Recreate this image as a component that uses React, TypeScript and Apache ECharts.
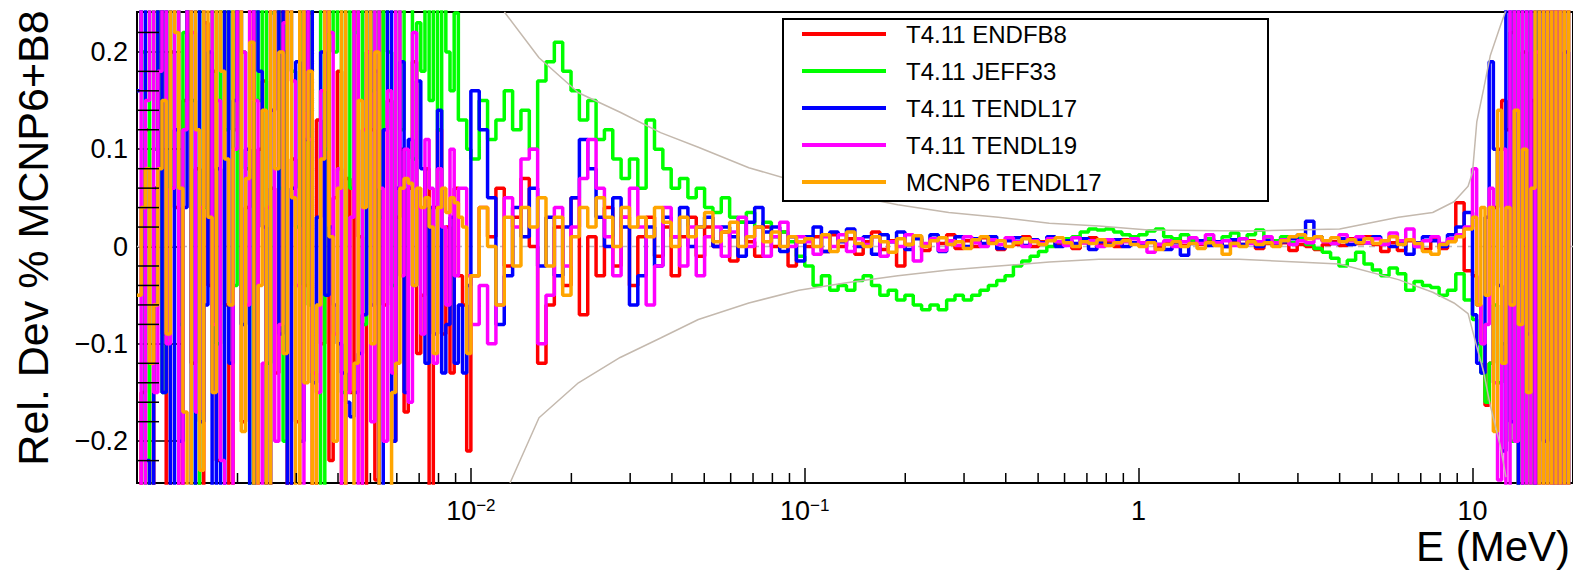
import React, { useEffect, useRef } from "react";
import * as echarts from "echarts";

const FONT = '"Liberation Sans", Arial, Helvetica, sans-serif';

// Energy axis (MeV). Histogram bins, log-uniform within each energy range:
// 80/decade below 10 keV, 40/decade from 10 keV to 10 MeV, 80/decade above 10 MeV
const E_MIN = 0.001;
const E_MAX = 20;
const binEdges: number[] = [];
for (let i = 0; i <= 80; i++) binEdges.push(0.001 * Math.pow(10, i / 80));
for (let i = 1; i <= 120; i++) binEdges.push(0.01 * Math.pow(10, i / 40));
for (let i = 1; i <= 24; i++) binEdges.push(10 * Math.pow(10, i / 80));

const Y_MIN = -0.243;
const Y_MAX = 0.241;

// Series values, in units of 1e-3 (one value per bin): low (<10 keV), mid, high (>10 MeV)
const endfb8Low = [
  -300, -150, 120, -280, 60, 300, -90, -250, 200, 40, -300, 150, 260, -120, 80, -300, 230, -40, 180, -220,
  300, -60, -280, 120, 250, -180, 40, 300, -300, 100, 170, -250, 60, -130, 280, 200, -300, 90, -180, 300,
  -40, 240, -290, 130, -100, 300, -220, 50, 180, -300, 70, -150, 260, 10, -300, 200, 120, -240, 300, -60,
  150, -200, 30, 100, -170, 60, 190, -110, -50, 80, -260, 40, 120, -90, 20, -130, 60, -30, -60, -210,
];
const endfb8Mid = [
  -30, 40, 10, 60, -20, 30, 70, 0, -120, -60, 20, -40, 50, -70, 10, -30, 40, -20, 30, -40, 10, 30, -10, 20, -30, 10, 30, -10, 20, 0, 15, -15, 25, 5, -10, 20, 0, 15, -20, 5,
  0, 10, -5, 12, 0, 8, -8, 5, 15, -3, 6, -20, 2, 10, -4, 8, 3, 12, -2, 6, 0, 9, 4, -3, 7, 2, 10, 0, 5, 8, 2, 6, -2, 4, 9, 3, 5, 0, 7, 4,
  3, 6, 0, 4, 8, 1, 5, 2, 7, 3, 0, 5, 2, 6, -2, 3, 1, 4, -4, 2, 0, -3, 2, 5, 1, 8, 3, 10, 2, -5, 4, -4, 6, 0, -3, 8, -2, 6, 45, -25,
];
const endfb8High = [-30, -60, -100, -163, -120, 40, 100, 150, 120, 220, 300, -300, 200, -260, 150, -300, 300, -280, 300, -300, 260, -300, 300, -250];

const jeff33Low = [
  300, 200, -300, 280, 100, 300, -150, 250, 60, 300, -80, 220, 300, 150, -260, 300, 40, 180, 300, -100,
  260, 120, 300, -40, 300, 200, 80, -300, 300, 150, 300, -120, 240, 300, 60, -200, 300, 180, 20, 300,
  140, -60, 300, 250, -300, 100, 300, 200, 300, -150, 300, 60, 220, 300, -80, 300, 160, 270, 30, 300,
  200, -40, 300, 120, 260, 300, 90, 230, 180, 300, 150, 250, 120, 300, 200, 160, 240, 130, 130, 100,
];
const jeff33Mid = [
  90, 150, 110, 130, 160, 120, 140, 100, 170, 190, 210, 180, 160, 130, 150, 110, 120, 90, 70, 90, 60, 130, 100, 80, 60, 70, 50, 60, 40, 35, 50, 30, 25, 35, 20, 25, 10, 15, 5, -10,
  -20, -40, -30, -45, -40, -45, -35, -30, -40, -50, -45, -55, -50, -60, -65, -60, -65, -55, -50, -55, -50, -45, -40, -35, -30, -20, -15, -10, -5, 0, 5, 8, 10, 15, 18, 17, 18, 15, 12, 10,
  12, 16, 18, 10, 8, 12, 6, 5, 8, 4, 10, 14, 8, 12, 17, 8, 6, 10, 4, 8, 2, -2, -6, -12, -20, -14, -6, -18, -24, -30, -22, -28, -45, -36, -40, -42, -50, -45, -28, -55,
];
const jeff33High = [-75, -100, -130, -160, -120, -60, -140, -100, 40, -200, 300, -300, 300, -250, 100, -300, 250, -300, 300, -280, 200, -300, 300, -300];

const tendl17Low = [
  160, 300, -220, -300, 60, 250, -150, 300, -250, 120, -200, 40, 300, -300, 250, -180, -60, 200, -300, 80,
  -250, 300, -120, 150, 300, -80, 100, -300, 280, 180, 20, -300, 140, 300, -90, 250, -300, 60, 190, -200,
  110, 300, -140, 30, 200, -50, 20, -60, -100, -130, -160, -175, -150, -110, -70, 300, -60, 180, -300, 120,
  250, -200, 60, 190, -150, 110, -40, 170, 80, -120, 40, -90, 140, -130, -80, 30, -120, -60, -130, -40,
];
const tendl17Mid = [
  160, 120, 50, -80, -30, 40, 10, 60, -20, 30, -30, 20, 50, 110, 80, 30, 0, 50, 20, -60, -30, 20, -20, 30, 10, 40, 0, 20, 30, 0, 20, 10, -10, 25, 40, 15, 20, -5, 10, -15,
  10, 20, -5, 15, 5, 18, 0, 10, -8, 12, 5, 15, -3, 8, 2, 12, -5, 6, 10, 0, 8, 3, 10, -2, 6, 9, 1, 7, 4, 10, 0, 6, 3, 8, -3, 5, 2, 7, 0, 4,
  3, 6, 2, -3, 4, -9, 3, 6, 1, 5, 0, 7, 2, 4, 0, 6, 2, 5, 8, 12, 26, 10, 6, 3, 8, 2, 7, 4, 10, 6, 0, 5, -8, 4, 10, 6, 0, 12, 20, 35,
];
const tendl17High = [-70, -120, -130, 30, 190, 100, -40, -210, 300, -180, 260, -300, 300, -90, 300, -300, 300, -200, 250, -300, 300, -300, 200, -300];

const tendl19Low = [
  300, -300, 150, 250, -150, 180, 300, -100, 60, 280, -250, 120, 300, 220, -170, 40, 300, 260, -80, 150,
  -220, -300, -280, 100, 300, 200, -60, 290, 150, -300, -120, 40, 300, -200, -80, 230, 300, 170, -40, -250,
  300, 110, -130, -150, 160, 300, 220, -90, 80, -300, -150, 30, 300, -250, 120, 200, -180, 300, 60, -200,
  160, -130, 260, -30, 100, -160, 220, 40, -90, 110, 60, -120, 80, 20, -60, 100, -30, 60, 60, -30,
];
const tendl19Mid = [
  -80, -40, -100, -60, 50, 20, 90, 100, -100, -50, 40, -20, 20, 70, 110, 60, 10, -30, 30, 60, 20, -60, -20, 40, 10, -20, 20, -30, 10, 20, -10, 15, 30, 0, 20, -10, 10, 25, 0, 10,
  5, -8, 10, 0, 12, -5, 8, 2, 10, -10, 5, 0, 12, -15, 3, 8, -4, 6, 1, 10, 4, 0, 7, 2, 9, 5, 0, 6, 3, 8, 5, 1, 9, 4, 6, 0, 7, 3, 5, 8,
  4, -6, 2, 6, 0, 5, 9, 3, 12, 4, 6, 1, 8, 3, 5, 10, 4, 7, 2, 6, 4, 9, 5, 3, 12, 6, 10, 4, 8, 2, 14, 6, 18, 0, 6, 10, 3, 8, 12, 20,
];
const tendl19High = [80, -60, -100, -80, 60, -140, -240, 100, -300, 250, -200, 300, -300, 300, -300, 200, -300, 300, -250, 300, -300, 300, -300, 300];

const mcnp6Low = [
  -50, 40, 80, -120, -60, 80, 150, -90, 300, 220, 60, -170, -300, 250, 120, -230, 300, 30, -150, 300,
  180, 90, -60, 260, 300, -190, 70, 210, -300, -40, 140, -260, 300, 80, 200, -110, 300, 50, -280, 300,
  -140, 180, -300, -60, 90, 300, 10, -200, 60, 250, -300, -250, -120, 150, 40, 300, -100, 200, -300, -280,
  -250, -150, -120, 60, 70, 65, -40, 60, 40, 50, 20, -110, 40, 60, 35, 50, 45, 30, 20, -110,
];
const mcnp6Mid = [
  -30, 40, 0, -60, 30, -20, 40, 20, 50, -20, 30, -50, 10, 40, 20, 50, 30, 0, 40, 20, 30, 10, 40, 25, 0, 30, 10, 20, 35, 5, 15, 25, 0, 10, 20, 5, 15, 0, 10, 5,
  8, 0, 12, -5, 6, 15, 3, 0, 10, 5, -6, 8, 2, 11, 0, 6, 9, 2, 5, -2, 7, 10, 3, 6, 0, 4, 8, 5, 2, 6, 9, 4, 0, 5, 3, 7, 1, 4, 6, 2,
  0, 4, -3, 2, 5, 0, 3, -2, 4, 1, -8, 3, 0, 5, 2, 4, 0, 6, 10, 12, 8, 10, 6, 9, 5, 7, 4, 8, 3, 6, 10, 2, 7, 3, -5, -8, 2, 5, 10, 18,
];
const mcnp6High = [30, -60, 40, -50, 40, -190, 140, -120, 40, -60, 140, -80, 100, -150, 60, 300, -300, 300, -300, 300, -300, 300, -300, 300];

const seriesNames = ["T4.11 ENDFB8", "T4.11 JEFF33", "T4.11 TENDL17", "T4.11 TENDL19", "MCNP6 TENDL17"];
const seriesColors = ["#ff0000", "#00ff00", "#0000ff", "#ff00ff", "#ffa500"];
const seriesValues = [
  [...endfb8Low, ...endfb8Mid, ...endfb8High],
  [...jeff33Low, ...jeff33Mid, ...jeff33High],
  [...tendl17Low, ...tendl17Mid, ...tendl17High],
  [...tendl19Low, ...tendl19Mid, ...tendl19High],
  [...mcnp6Low, ...mcnp6Mid, ...mcnp6High],
];

// Statistical envelope (grey curves)
const envUpperE = [0.0126, 0.016, 0.021, 0.028, 0.037, 0.048, 0.068, 0.096, 0.135, 0.19, 0.27, 0.38, 0.54, 0.76, 1.07, 2.1, 4.0, 6.0, 7.6, 8.8, 9.7, 10.0, 10.3, 10.8, 11.3, 12.1, 12.6];
const envUpper = [0.241, 0.194, 0.158, 0.138, 0.117, 0.102, 0.081, 0.066, 0.053, 0.043, 0.035, 0.03, 0.024, 0.021, 0.017, 0.016, 0.018, 0.03, 0.035, 0.046, 0.062, 0.076, 0.128, 0.162, 0.196, 0.226, 0.243];
const envLowerE = [0.0131, 0.016, 0.021, 0.028, 0.037, 0.048, 0.068, 0.096, 0.135, 0.19, 0.27, 0.38, 0.54, 0.76, 2.0, 4.0, 6.0, 7.6, 8.8, 9.7, 10.3, 10.8, 11.3, 12.1, 12.6];
const envLower = [-0.243, -0.176, -0.14, -0.114, -0.094, -0.075, -0.058, -0.045, -0.037, -0.03, -0.024, -0.02, -0.016, -0.013, -0.013, -0.018, -0.034, -0.047, -0.058, -0.069, -0.103, -0.129, -0.163, -0.204, -0.237];

// Minor tick positions
const xMinorTicks: number[] = [];
for (let d = -3; d <= 1; d++) for (let k = 2; k <= 9; k++) {
  const v = k * Math.pow(10, d);
  if (v > E_MIN && v < E_MAX) xMinorTicks.push(v);
}
const yMinorTicks = [-0.22, -0.18, -0.16, -0.14, -0.12, -0.08, -0.06, -0.04, -0.02, 0.02, 0.04, 0.06, 0.08, 0.12, 0.14, 0.16, 0.18, 0.22];

function stepData(vals: number[]) {
  const n = Math.min(vals.length, binEdges.length - 1);
  const pts: number[][] = [];
  for (let i = 0; i < n; i++) pts.push([binEdges[i], vals[i] / 1000]);
  pts.push([binEdges[n], vals[n - 1] / 1000]);
  return pts;
}

function buildOption() {
  const dataSeries = seriesValues.map((vals, k) => ({
    name: seriesNames[k],
    type: "line",
    step: "end",
    data: stepData(vals),
    symbol: "none",
    showSymbol: false,
    clip: true,
    silent: true,
    z: 2,
    color: seriesColors[k],
    lineStyle: { color: seriesColors[k], width: 3.5 },
    emphasis: { disabled: true },
  }));

  return {
    animation: false,
    backgroundColor: "#ffffff",
    grid: { left: 137, top: 12, right: -1, bottom: 87, show: true, borderColor: "#000", borderWidth: 2, backgroundColor: "transparent" },
    xAxis: {
      type: "log",
      logBase: 10,
      min: E_MIN,
      max: E_MAX,
      axisLine: { show: true, onZero: false, lineStyle: { color: "#000", width: 2 } },
      axisTick: { show: true, inside: true, length: 15, lineStyle: { color: "#000", width: 1.5 } },
      minorTick: { show: false },
      splitLine: { show: false },
      axisLabel: {
        show: true,
        margin: 14,
        showMinLabel: false,
        showMaxLabel: false,
        formatter: (v: number) => {
          const e = Math.round(Math.log10(v));
          if (Math.abs(v - Math.pow(10, e)) > 1e-6 * v) return "";
          if (e < 0) return `{b|10}{s|\u2212${-e}}`;
          return `{b|${Math.round(Math.pow(10, e))}}`;
        },
        rich: {
          b: { fontSize: 27, fontFamily: FONT, color: "#000", lineHeight: 27 },
          s: { fontSize: 17, fontFamily: FONT, color: "#000", lineHeight: 15, verticalAlign: "top" },
        },
      },
    },
    yAxis: {
      type: "value",
      min: Y_MIN,
      max: Y_MAX,
      axisLine: { show: true, onZero: false, lineStyle: { color: "#000", width: 2 } },
      axisTick: { show: true, inside: true, length: 44, lineStyle: { color: "#000", width: 1.5 } },
      minorTick: { show: false },
      splitLine: { show: false },
      axisLabel: {
        show: true,
        margin: 9,
        showMinLabel: false,
        showMaxLabel: false,
        fontSize: 27,
        fontFamily: FONT,
        color: "#000",
        formatter: (v: number) => String(Math.round(v * 1000) / 1000).replace("-", "\u2212"),
      },
    },
    legend: {
      data: seriesNames,
      orient: "vertical",
      left: 783,
      top: 19,
      padding: [3, 0, 7, 19],
      itemWidth: 84,
      itemHeight: 4,
      itemGap: 13,
      icon: "rect",
      selectedMode: false,
      z: 4,
      textStyle: { fontSize: 24, fontFamily: FONT, color: "#000", lineHeight: 24, padding: [0, 0, 0, 15] },
    },
    graphic: [
      { type: "rect", z: 3, shape: { x: 783, y: 19, width: 485, height: 182 }, style: { fill: "#fff", stroke: "#000", lineWidth: 2 } },
      {
        type: "text", x: 33, y: 238, rotation: Math.PI / 2,
        style: { text: "Rel. Dev % MCNP6+B8", font: `43px ${FONT}`, fill: "#000", align: "center", verticalAlign: "middle", textAlign: "center", textVerticalAlign: "middle" },
      },
      {
        type: "text", x: 1570, y: 546,
        style: { text: "E (MeV)", font: `42px ${FONT}`, fill: "#000", align: "right", verticalAlign: "middle", textAlign: "right", textVerticalAlign: "middle" },
      },
    ],
    series: [
      {
        name: "zero", type: "line", data: [[E_MIN, 0], [E_MAX, 0]], symbol: "none", silent: true, z: 1,
        lineStyle: { color: "#bdbdbd", width: 1.5, type: [6, 5] },
      },
      ...dataSeries,
      {
        name: "envUp", type: "line", data: envUpperE.map((e, i) => [e, envUpper[i]]), symbol: "none", silent: true, z: 2, clip: true,
        lineStyle: { color: "#c4b9ae", width: 1.5 },
      },
      {
        name: "envLo", type: "line", data: envLowerE.map((e, i) => [e, envLower[i]]), symbol: "none", silent: true, z: 2, clip: true,
        lineStyle: { color: "#c4b9ae", width: 1.5 },
      },
      {
        name: "xMinor", type: "custom", silent: true, z: 5,
        data: xMinorTicks.map((v) => [v, Y_MIN]),
        renderItem: (_p: any, api: any) => {
          const p = api.coord([api.value(0), api.value(1)]);
          return { type: "line", shape: { x1: p[0], y1: p[1], x2: p[0], y2: p[1] - 10 }, style: { stroke: "#000", lineWidth: 1.5 } };
        },
      },
      {
        name: "yMinor", type: "custom", silent: true, z: 5,
        data: yMinorTicks.map((v) => [E_MIN, v]),
        renderItem: (_p: any, api: any) => {
          const p = api.coord([api.value(0), api.value(1)]);
          return { type: "line", shape: { x1: p[0], y1: p[1], x2: p[0] + 22, y2: p[1] }, style: { stroke: "#000", lineWidth: 1.5 } };
        },
      },
    ],
  };
}

export default function App() {
  const ref = useRef<HTMLDivElement>(null);
  useEffect(() => {
    if (!ref.current) return;
    const chart = echarts.init(ref.current, null, { renderer: "svg" });
    chart.setOption(buildOption() as any);
    return () => chart.dispose();
  }, []);
  return <div ref={ref} style={{ position: "fixed", left: 0, top: 0, width: 1573, height: 570, background: "#fff" }} />;
}
